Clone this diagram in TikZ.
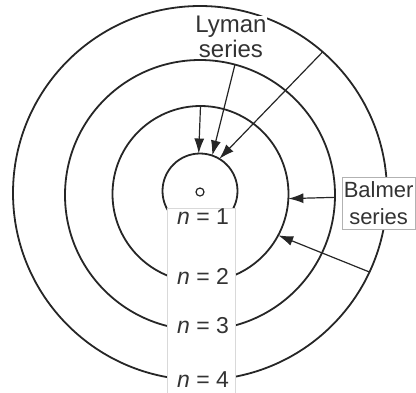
\documentclass[tikz,border=0pt]{standalone}
\usepackage{fontspec}
\setmainfont{Liberation Sans}
\usetikzlibrary{arrows.meta}
\begin{document}
\begin{tikzpicture}[x=1pt,y=-1pt,
  orbit/.style={circle, draw=black!85, line width=1.8pt, inner sep=0pt, outer sep=0pt},
  jump/.style={draw=black!85, line width=1.2pt, -{Latex[length=15pt,width=10pt]}},
  series/.style={text=black!80, align=center, inner sep=0pt, fill=white},
  nlbl/.style={text=black!80, font=\fontsize{23}{23}\selectfont, inner sep=0pt, anchor=base},
  ]
\useasboundingbox (0,0) rectangle (416,392);
% orbits
\node[orbit, minimum size=75pt]  (n1) at (200,191) {};
\node[orbit, minimum size=176pt] (n2) at (200.5,194) {};
\node[orbit, minimum size=270pt] (n3) at (200,195) {};
\node[orbit, minimum size=374pt] (n4) at (200,193) {};
% nucleus
\node[circle, draw=black!85, line width=1.2pt, minimum size=8pt, inner sep=0pt] (nuc) at (200,192) {};
% gap for the labels
\node[draw=black!15, line width=0.5pt, fill=white, anchor=north west, minimum width=68pt, minimum height=200pt, inner sep=0pt] (gap) at (167,208) {};
% Lyman transitions
\draw[jump] (n2.90) -- (n1.92);
\draw[jump] (n3.75) -- (n1.71);
\draw[jump] (n4.49) -- (n1.59);
% Balmer transitions
\draw[jump] (n3.-1.7) -- (n2.-3.3);
\draw[jump] (n4.-25.5) -- (n2.-28.7);
% labels
\node[series, font=\fontsize{24}{25.5}\selectfont, anchor=north] (lyman) at (231,15.5) {Lyman\\series};
\node[series, draw=black!30, line width=0.5pt, font=\fontsize{22}{27.5}\selectfont, inner xsep=1.5pt, inner ysep=4pt, anchor=north west] (balmer) at (342,177) {Balmer\\series};
\node[nlbl] (l1) at (203,224) {\textit{n} = 1};
\node[nlbl] (l2) at (203,284) {\textit{n} = 2};
\node[nlbl] (l3) at (203,333) {\textit{n} = 3};
\node[nlbl] (l4) at (203,387) {\textit{n} = 4};
\end{tikzpicture}
\end{document}
